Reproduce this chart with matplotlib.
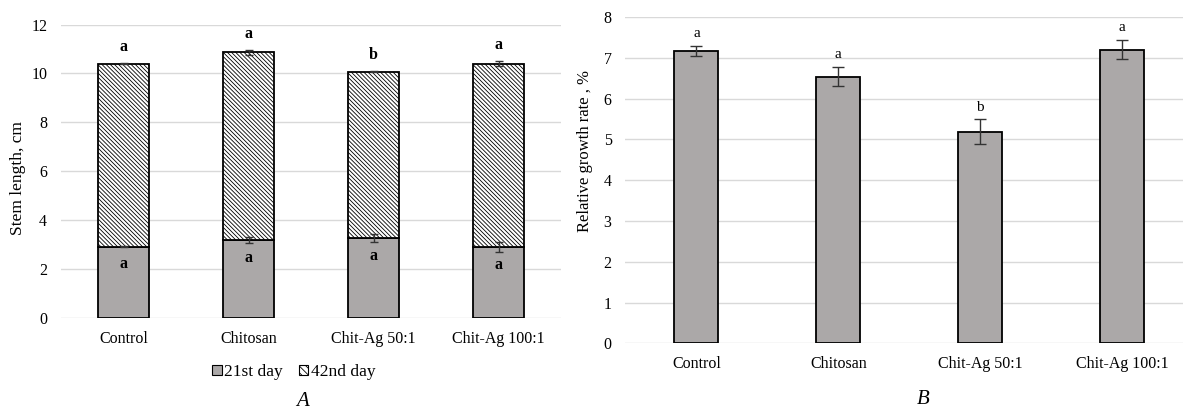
import matplotlib
matplotlib.use("Agg")
import matplotlib.pyplot as plt
from matplotlib.patches import Patch
import numpy as np

# --- data ---
treatments = ["Control", "Chitosan", "Chit-Ag 50:1", "Chit-Ag 100:1"]

# A: stem length, cm (day 42 = total height of the stacked bar)
day21 = [2.93, 3.20, 3.27, 2.90]
day21_err = [0.03, 0.12, 0.17, 0.20]
day42 = [10.40, 10.86, 10.08, 10.40]
day42_err = [0.02, 0.09, 0.02, 0.10]
letters_top = ["a", "a", "b", "a"]
letters_low = ["a", "a", "a", "a"]

# B: relative growth rate, %
rgr = [7.17, 6.54, 5.19, 7.20]
rgr_err = [0.13, 0.23, 0.30, 0.24]
letters_rgr = ["a", "a", "b", "a"]

bar_grey = "#aba8a8"
grid_grey = "#d9d9d9"
BS = chr(92)  # backslash, for the hatch pattern
plt.rcParams["font.family"] = ["Liberation Serif", "DejaVu Serif"]
plt.rcParams["hatch.linewidth"] = 0.6

fig = plt.figure(figsize=(11.83, 4.12), dpi=100)
axA = fig.add_axes([0.0516, 0.2274, 0.4227, 0.7131])
axB = fig.add_axes([0.5287, 0.1667, 0.4713, 0.7920])

x = np.arange(len(treatments))
d21 = np.array(day21)
d42 = np.array(day42)

def style(ax, ymax, step):
    for s in ax.spines.values():
        s.set_visible(False)
    ax.set_ylim(0, ymax)
    ax.set_yticks(np.arange(0, ymax + step / 2, step))
    ax.yaxis.grid(True, color=grid_grey, lw=1.0)
    ax.set_axisbelow(True)
    ax.tick_params(axis="both", length=0, labelsize=11.5)
    ax.tick_params(axis="y", pad=10)
    ax.tick_params(axis="x", pad=9)
    ax.set_xticks(x)
    ax.set_xticklabels(treatments)

# ---- panel A ----
style(axA, 12, 2)
axA.set_xlim(-0.5, 3.5)
axA.bar(x, d21, width=0.41, color=bar_grey, edgecolor="black", lw=1.3, zorder=2)
axA.bar(x, d42 - d21, bottom=d21, width=0.41, color="white", edgecolor="black",
        hatch=BS * 8, lw=1.3, zorder=2)
axA.errorbar(x, d21, yerr=day21_err, fmt="none", ecolor="#333333", elinewidth=1,
             capsize=3, capthick=1, zorder=3)
axA.errorbar(x, d42, yerr=day42_err, fmt="none", ecolor="#333333", elinewidth=1,
             capsize=3, capthick=1, zorder=3)
for i in range(len(x)):
    axA.text(x[i], d42[i] + day42_err[i] + 0.65, letters_top[i], ha="center",
             va="center", fontsize=11.5, fontweight="bold")
    axA.text(x[i], d21[i] - 0.72, letters_low[i], ha="center", va="center",
             fontsize=11.5, fontweight="bold", zorder=4)
axA.set_ylabel("Stem length, cm", fontsize=12.5)
axA.yaxis.set_label_coords((26 - 61) / 500, 0.477)

handles = [Patch(facecolor=bar_grey, edgecolor="black", lw=0.8),
           Patch(facecolor="white", edgecolor="black", hatch=BS * 5, lw=0.8)]
fig.legend(handles, ["21st day", "42nd day"], loc="center",
           bbox_to_anchor=(294 / 1183, 1 - 372 / 412), ncol=2, frameon=False,
           fontsize=12.5, handlelength=0.55, handleheight=0.55, handletextpad=0.15,
           columnspacing=0.9)
fig.text(303 / 1183, 1 - 402 / 412, "A", fontsize=15, style="italic",
         ha="center", va="center")

# ---- panel B ----
style(axB, 8, 1)
axB.set_xlim(-0.5, 3.43)
axB.bar(x, rgr, width=0.31, color=bar_grey, edgecolor="black", lw=1.3, zorder=2)
axB.errorbar(x, rgr, yerr=rgr_err, fmt="none", ecolor="#333333", elinewidth=1,
             capsize=4, capthick=1, zorder=3)
for i in range(len(x)):
    axB.text(x[i], rgr[i] + rgr_err[i] + 0.3, letters_rgr[i], ha="center",
             va="center", fontsize=11)
axB.set_ylabel("Relative growth rate , %", fontsize=12)
axB.yaxis.set_label_coords((593 - 625.5) / 557.5, 0.59)
fig.text(923 / 1183, 1 - 400 / 412, "B", fontsize=15, style="italic",
         ha="center", va="center")

fig.savefig("out.png", dpi=100)
